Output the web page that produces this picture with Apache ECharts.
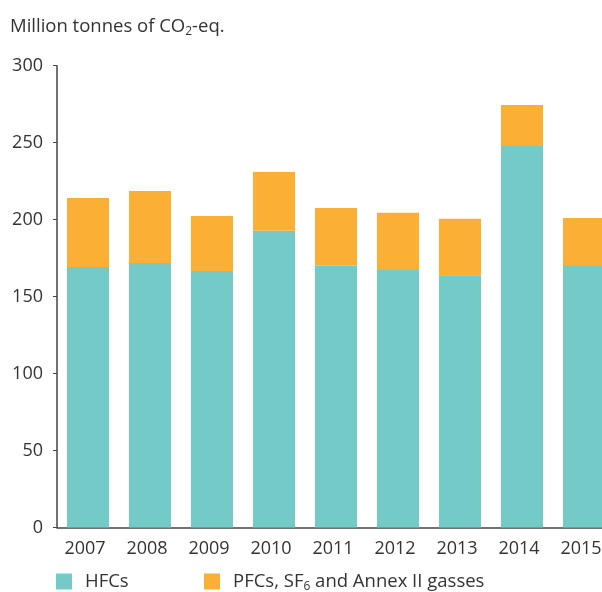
<!DOCTYPE html>
<html>
<head>
<meta charset="utf-8">
<script src="https://cdn.jsdelivr.net/npm/echarts@6/dist/echarts.min.js"></script>
<style>
  html, body { margin: 0; padding: 0; background: #fff; }
  #chart { width: 602px; height: 592px; }
</style>
</head>
<body>
<div id="chart"></div>
<script>
// years and values (million tonnes CO2-eq.)
const years = ["2007", "2008", "2009", "2010", "2011", "2012", "2013", "2014", "2015"];
const hfcs = [169.3, 171.9, 166.7, 192.7, 170.0, 167.3, 163.9, 247.9, 169.9];
const others = [44.8, 46.7, 35.7, 38.3, 37.6, 37.1, 36.6, 26.6, 31.2];
const yTicks = [0, 50, 100, 150, 200, 250, 300];

const textColor = "#333";
const font = "'Open Sans', sans-serif";

const chart = echarts.init(document.getElementById("chart"));
chart.setOption({
  animation: false,
  textStyle: { fontFamily: font, color: textColor },
  title: {
    left: 5,
    top: 10,
    text: "{a|Million tonnes of CO}{s|2}{a|-eq.}",
    textStyle: {
      fontWeight: "normal",
      rich: {
        a: { fontSize: 18.5, color: textColor, fontFamily: font, fontWeight: "normal" },
        s: { fontSize: 12, color: textColor, fontFamily: font, fontWeight: "normal", padding: [11, 0, 0, 0] },
      },
    },
  },
  legend: [
    {
      data: ["HFCs"],
      left: 51,
      top: 567,
      itemWidth: 16,
      itemHeight: 16,
      icon: "rect",
      textStyle: { fontSize: 18.5, color: textColor, fontFamily: font, padding: [0, 0, 0, 8] },
    },
    {
      data: ["PFCs, SF6 and Annex II gasses"],
      left: 199,
      top: 567,
      itemWidth: 16,
      itemHeight: 16,
      icon: "rect",
      formatter: () => "{a|PFCs, SF}{s|6}{a| and Annex II gasses}",
      textStyle: {
        padding: [0, 0, 0, 8],
        rich: {
          a: { fontSize: 18.5, color: textColor, fontFamily: font },
          s: { fontSize: 12, color: textColor, fontFamily: font, padding: [11, 0, 0, 0] },
        },
      },
    },
  ],
  grid: { left: 57, top: 65.7, height: 461.8, width: 558, outerBoundsMode: "none", containLabel: false },
  xAxis: {
    type: "category",
    data: years,
    axisLine: { lineStyle: { color: "#444", width: 1.5 } },
    axisTick: { length: 4, lineStyle: { color: "#444" } },
    axisLabel: { fontSize: 18, color: textColor, margin: 12, fontFamily: font, padding: [0, 6, 0, 0] },
  },
  yAxis: {
    type: "value",
    min: yTicks[0],
    max: yTicks[yTicks.length - 1],
    interval: 50,
    axisLine: { show: true, lineStyle: { color: "#444", width: 1.5 } },
    axisTick: { show: true, length: 4, lineStyle: { color: "#444" } },
    axisLabel: { fontSize: 18, color: textColor, margin: 14, fontFamily: font },
    splitLine: { show: false },
  },
  series: [
    {
      name: "HFCs",
      type: "bar",
      stack: "total",
      barWidth: 42,
      data: hfcs,
      itemStyle: { color: "#74CAC7" },
    },
    {
      name: "PFCs, SF6 and Annex II gasses",
      type: "bar",
      stack: "total",
      barWidth: 42,
      data: others,
      itemStyle: { color: "#FBAF34" },
    },
  ],
});
</script>
</body>
</html>
